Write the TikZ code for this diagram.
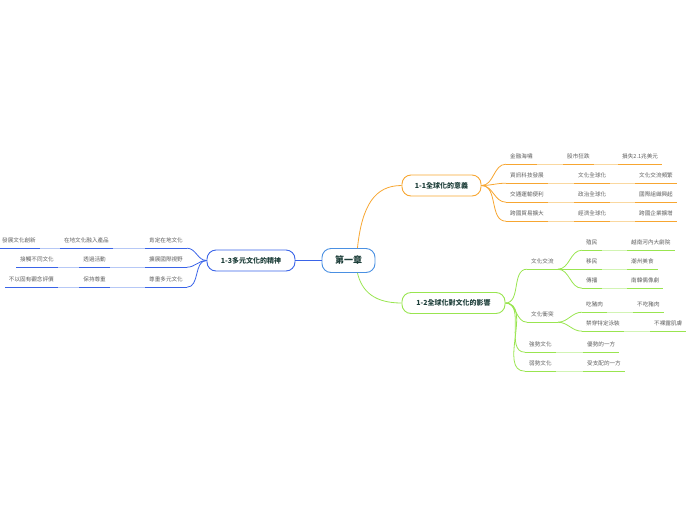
\documentclass[tikz,border=0pt]{standalone}
\usepackage{fontspec}
\setmainfont{Noto Sans CJK TC}
\usepackage{xcolor}

\definecolor{orangeD}{HTML}{F7A631}
\definecolor{orangeL}{HTML}{FAD8A0}
\definecolor{greenD}{HTML}{99E550}
\definecolor{greenL}{HTML}{D2F4B4}
\definecolor{blueD}{HTML}{3A64E8}
\definecolor{blueL}{HTML}{B6C8F6}
\definecolor{rootblue}{HTML}{4A90E2}
\definecolor{labelgreen}{HTML}{1E3F3A}
\definecolor{leafgray}{HTML}{5E5E5E}

\tikzset{
  leaf/.style={inner xsep=4pt, inner ysep=0pt, minimum height=16pt,
    font=\fontsize{5.6}{7}\selectfont, text=leafgray},
  topic/.style={draw, rounded corners=9pt, line width=0.9pt, minimum height=21pt,
    font=\fontsize{7}{8}\selectfont\bfseries, text=labelgreen},
  branch/.style={line width=0.8pt},
}

\newcommand{\leafline}[2]{\draw[#1, line width=1.4pt] (#2.south west) -- (#2.south east);}
\newcommand{\leaflink}[3]{\draw[#1, line width=1.4pt] (#2.south east) -- (#3.south west);}

\begin{document}
\begin{tikzpicture}[x=1pt, y=-1pt]
    \useasboundingbox (0,0) rectangle (696,520);

    % main topics
    \node[topic, draw=rootblue, minimum width=53pt, minimum height=24pt,
      font=\fontsize{9}{10}\selectfont\bfseries] (root) at (348.5,260.5) {第一章};
    \node[topic, draw=orangeD, minimum width=79pt] (n11) at (441.5,185.5) {1-1全球化的意義};
    \node[topic, draw=greenD, minimum width=103pt] (n12) at (453.5,303) {1-2全球化對文化的影響};
    \node[topic, draw=blueD, minimum width=88pt] (n13) at (251,260.5) {1-3多元文化的精神};

    \draw[branch, orangeD] (root.north east) ++(-18,0) coordinate (ro)
        .. controls (362,205) and (375,185.5) .. (n11.west);
    \draw[branch, greenD] (root.south east) ++(-18,0) coordinate (rg)
        .. controls (362,292) and (375,303) .. (n12.west);
    \draw[branch, blueD] (root.west) -- (n13.east);

    % 1-1
    \node[leaf, anchor=west] (o11) at (506,156) {金融海嘯};
    \node[leaf, anchor=west] (o12) at (563,156) {股市狂跌};
    \node[leaf, anchor=west] (o13) at (618,156) {損失2.1兆美元};
    \node[leaf, anchor=west] (o21) at (506,175) {資訊科技發展};
    \node[leaf, anchor=west] (o22) at (574,175) {文化全球化};
    \node[leaf, anchor=west] (o23) at (635,175) {文化交流頻繁};
    \node[leaf, anchor=west] (o31) at (506,194) {交通運輸便利};
    \node[leaf, anchor=west] (o32) at (574,194) {政治全球化};
    \node[leaf, anchor=west] (o33) at (635,194) {國際組織興起};
    \node[leaf, anchor=west] (o41) at (506,213) {跨國貿易擴大};
    \node[leaf, anchor=west] (o42) at (574,213) {經濟全球化};
    \node[leaf, anchor=west] (o43) at (635,213) {跨國企業擴增};

    \foreach \r in {1,2,3,4}{
        \draw[branch, orangeD] (n11.east) to[out=0, in=180] (o\r1.south west);
        \leaflink{orangeL}{o\r1}{o\r2}
        \leaflink{orangeL}{o\r2}{o\r3}
        \foreach \c in {1,2,3}{ \leafline{orangeD}{o\r\c} }
    }

    % 1-2
    \node[leaf, anchor=west] (g1) at (527,261) {文化交流};
    \node[leaf, anchor=west] (g11) at (582,242) {殖民};
    \node[leaf, anchor=west] (g111) at (627,242) {越南河內大劇院};
    \node[leaf, anchor=west] (g12) at (582,261) {移民};
    \node[leaf, anchor=west] (g121) at (627,261) {潮州美食};
    \node[leaf, anchor=west] (g13) at (582,280) {傳播};
    \node[leaf, anchor=west] (g131) at (627,280) {南韓偶像劇};
    \node[leaf, anchor=west] (g2) at (527,314) {文化衝突};
    \node[leaf, anchor=west] (g21) at (582,304) {吃豬肉};
    \node[leaf, anchor=west] (g211) at (633,304) {不吃豬肉};
    \node[leaf, anchor=west] (g22) at (582,323) {禁穿特定泳裝};
    \node[leaf, anchor=west] (g221) at (650,323) {不裸露肌膚};
    \node[leaf, anchor=west] (g3) at (525,344) {強勢文化};
    \node[leaf, anchor=west] (g31) at (583,344) {優勢的一方};
    \node[leaf, anchor=west] (g4) at (525,363) {弱勢文化};
    \node[leaf, anchor=west] (g41) at (583,363) {受支配的一方};

    \foreach \a in {g1,g2,g3,g4}
        \draw[branch, greenD] (n12.east) to[out=0, in=180] (\a.south west);
    \foreach \a in {g11,g12,g13}
        \draw[branch, greenD] (g1.south east) to[out=0, in=180] (\a.south west);
    \foreach \a in {g21,g22}
        \draw[branch, greenD] (g2.south east) to[out=0, in=180] (\a.south west);
    \foreach \a/\b in {g11/g111,g12/g121,g13/g131,g21/g211,g22/g221,g3/g31,g4/g41}{
        \leaflink{greenL}{\a}{\b}
        \leafline{greenD}{\a}
        \leafline{greenD}{\b}
    }
    \foreach \a in {g1,g2}{ \leafline{greenD}{\a} }

    % 1-3
    \node[leaf, anchor=east] (b1) at (187,240) {肯定在地文化};
    \node[leaf, anchor=east] (b11) at (113,240) {在地文化融入產品};
    \node[leaf, anchor=east] (b111) at (40,240) {發展文化創新};
    \node[leaf, anchor=east] (b2) at (187,259) {擴展國際視野};
    \node[leaf, anchor=east] (b21) at (110,259) {透過活動};
    \node[leaf, anchor=east] (b211) at (58,259) {接觸不同文化};
    \node[leaf, anchor=east] (b3) at (187,279) {尊重多元文化};
    \node[leaf, anchor=east] (b31) at (110,279) {保持尊重};
    \node[leaf, anchor=east] (b311) at (58,279) {不以固有觀念評價};

    \foreach \r in {1,2,3}{
        \draw[branch, blueD] (n13.west) to[out=180, in=0] (b\r.south east);
        \leaflink{blueL}{b\r1}{b\r}
        \leaflink{blueL}{b\r11}{b\r1}
        \leafline{blueD}{b\r}
        \leafline{blueD}{b\r1}
        \leafline{blueD}{b\r11}
    }
\end{tikzpicture}
\end{document}
